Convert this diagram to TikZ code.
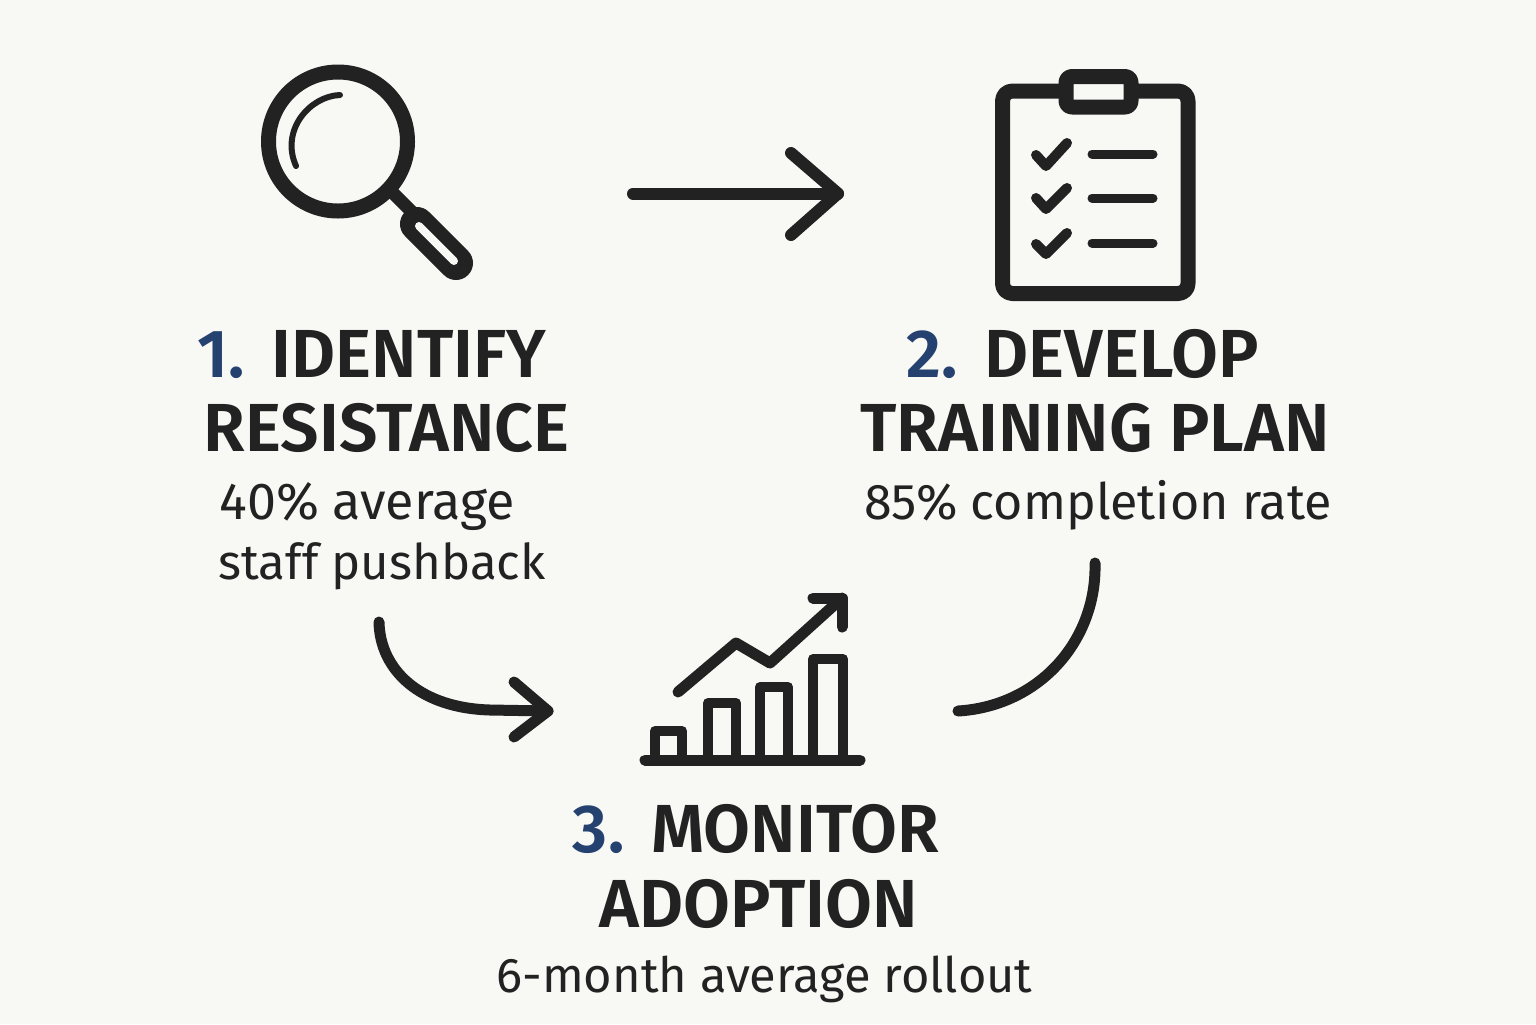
\documentclass[tikz,border=0pt]{standalone}
\usepackage{fontspec}
\setmainfont{Fira Sans}
\newfontfamily\headfont{Fira Sans SemiBold}
\definecolor{ink}{HTML}{222222}
\definecolor{numblue}{HTML}{25416F}
\definecolor{paper}{HTML}{F8F8F5}
\tikzset{
  x=0.5pt,y=-0.5pt,
  icon/.style={draw=ink,line width=7.5pt,line cap=round,line join=round},
  checkmark/.style={draw=ink,line width=5pt,line cap=round,line join=round},
  listline/.style={draw=ink,line width=4.5pt,line cap=round},
  barline/.style={draw=ink,line width=5pt,line cap=butt,line join=round},
  conn/.style={draw=ink,line width=5.5pt,line cap=round,line join=round},
  head/.style={text=ink,font=\headfont\fontsize{34}{34}\selectfont,inner sep=0pt,anchor=base},
  sub/.style={text=ink,font=\fontsize{#1}{#1}\selectfont,inner sep=0pt,anchor=base},
  sub/.default=24.8,
}
\newcommand{\num}[1]{\textcolor{numblue}{#1}\hspace{13.5pt}}
\begin{document}
\begin{tikzpicture}
\useasboundingbox (0,0) rectangle (1536,1024);
\fill[paper] (0,0) rectangle (1536,1024);
% magnifier
\draw[icon] (338,141.5) circle [radius=69.5];
\draw[draw=ink,line width=3pt,line cap=round] (340,95) .. controls (310,96) and (280,130) .. (296,166);
\draw[draw=ink,line width=6.5pt] (392,192) -- (414,214);
\draw[draw=ink,line width=17pt,line cap=round] (417,224) -- (456,263);
\draw[draw=paper,line width=4pt,line cap=round] (419,226) -- (454,261);
% clipboard
\draw[icon,rounded corners=5pt] (1002.5,91) rectangle (1188,293.5);
\draw[icon,rounded corners=3pt,fill=paper] (1066,76.5) rectangle (1131,107);
\draw[checkmark] (1036,155) -- (1046,166) -- (1067,143);
\draw[checkmark] (1036,198) -- (1046,209) -- (1067,188);
\draw[checkmark] (1036,244) -- (1046,254) -- (1067,233);
\foreach \y in {154,198,243}{
  \draw[listline] (1092,\y) -- (1153,\y);
}
% chart
\draw[draw=ink,line width=5.5pt,line cap=round] (645,760) -- (860,760);
\draw[barline] (655,760) -- (655,731) -- (682,731) -- (682,760);
\draw[barline] (708,760) -- (708,703) -- (736,703) -- (736,760);
\draw[barline] (760,760) -- (760,687) -- (788,687) -- (788,760);
\draw[barline] (813,760) -- (813,659) -- (843,659) -- (843,760);
\draw[conn] (678,692) -- (736,643) -- (770,663) -- (842,598);
\draw[conn] (813,598) -- (842,598) -- (842,627);
% text
\node[head] (t1a) at (371.5,377) {\num{1.}IDENTIFY};
\node[head] (t1b) at (386.5,451) {RESISTANCE};
\node[sub=26] (s1a) at (367,519) {40\% average};
\node[sub=24.6] (s1b) at (382,579) {staff pushback};
\node[head] (t2a) at (1082.5,377) {\num{2.}DEVELOP};
\node[head] (t2b) at (1095,451) {TRAINING PLAN};
\node[sub=25.1] (s2) at (1098,519) {85\% completion rate};
\node[head] (t3a) at (756,852) {\num{3.}MONITOR};
\node[head] (t3b) at (758.5,927) {ADOPTION};
\node[sub=24.4] (s3) at (764.5,992) {6-month average rollout};
% connectors
\coordinate (a1s) at (633,193.5); \coordinate (a1e) at (838,193.5);
\draw[conn,line width=6pt] (a1s) -- (a1e);
\draw[conn,line width=6pt] (791,153) -- (a1e) -- (791,235);
\coordinate (a2s) at (379,622); \coordinate (a2e) at (548,711);
\draw[conn] (a2s) .. controls (380,670) and (420,708) .. (490,710) -- (a2e);
\draw[conn] (514,682) -- (a2e) -- (514,737);
\coordinate (a3s) at (1095,563); \coordinate (a3e) at (958,711);
\draw[conn] (a3s) .. controls (1097,640) and (1040,706) .. (a3e);
\end{tikzpicture}
\end{document}
